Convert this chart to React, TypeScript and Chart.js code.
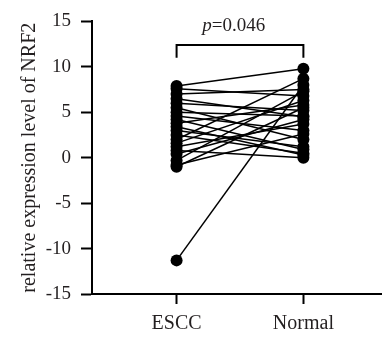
import React, { useEffect, useRef } from "react";
import { Chart, registerables } from "chart.js";

Chart.register(...registerables);

const groupLabels = ["ESCC", "Normal"];
const esccValues = [7.9, 7.6, 7.0, 6.5, 6.0, 5.5, 5.0, 4.6, 4.2, 3.8, 3.4, 3.0, 2.5, 2.0, 1.6, 1.2, 0.8, 0.4, -0.3, -0.8, -1.0, -11.3];
const normalValues = [9.8, 6.8, 7.5, 4.5, 5.2, 2.0, 4.6, 3.0, 0.9, 5.8, 0.3, 1.2, 0.5, 8.7, 6.3, 3.7, 0.0, 4.2, 7.3, 2.6, 5.5, 8.0];
const yTicks = [-15, -10, -5, 0, 5, 10, 15];
const pText = "=0.046";

const SERIF = "'Liberation Serif', 'Times New Roman', serif";
const INK = "#231f20";

export default function App() {
  const ref = useRef<HTMLCanvasElement | null>(null);

  useEffect(() => {
    document.body.style.margin = "0";
    const canvas = ref.current;
    if (!canvas) return;

    const datasets = esccValues.map((v, i) => ({
      data: [
        { x: 0, y: v },
        { x: 1, y: normalValues[i] },
      ],
      showLine: true,
      borderColor: "#000",
      backgroundColor: "#000",
      borderWidth: 1.5,
      pointRadius: 6,
      pointBorderWidth: 0,
      pointBackgroundColor: "#000",
      clip: false as any,
    }));

    const annot = {
      id: "annot",
      afterDraw(chart: any) {
        const ctx = chart.ctx;
        const xs = chart.scales.x;
        const ys = chart.scales.y;
        const x0 = xs.getPixelForValue(0);
        const x1 = xs.getPixelForValue(1);
        const yTop = ys.getPixelForValue(12.4);
        const yLeg = ys.getPixelForValue(11.0);
        ctx.save();
        ctx.strokeStyle = "#000";
        ctx.lineWidth = 2;
        ctx.beginPath();
        ctx.moveTo(x0, yLeg);
        ctx.lineTo(x0, yTop);
        ctx.lineTo(x1, yTop);
        ctx.lineTo(x1, yLeg);
        ctx.stroke();
        ctx.fillStyle = INK;
        ctx.textBaseline = "alphabetic";
        ctx.textAlign = "left";
        const base = ys.getPixelForValue(13.9);
        ctx.font = "italic 19px " + SERIF;
        const pw = ctx.measureText("p").width;
        ctx.font = "19px " + SERIF;
        const rw = ctx.measureText(pText).width;
        const cx = xs.getPixelForValue(0.45);
        const start = cx - (pw + rw) / 2;
        ctx.font = "italic 19px " + SERIF;
        ctx.fillText("p", start, base);
        ctx.font = "19px " + SERIF;
        ctx.fillText(pText, start + pw, base);
        ctx.restore();
      },
    };

    const chart = new Chart(canvas, {
      type: "scatter",
      data: { datasets: datasets as any },
      plugins: [annot],
      options: {
        animation: false,
        responsive: false,
        maintainAspectRatio: false,
        layout: { padding: { top: 18, left: 18, right: 1, bottom: 0 } },
        plugins: { legend: { display: false }, tooltip: { enabled: false } },
        scales: {
          x: {
            type: "linear",
            min: -0.667,
            max: 1.612,
            afterBuildTicks: (axis: any) => {
              axis.ticks = [{ value: 0 }, { value: 1 }];
            },
            afterFit: (axis: any) => {
              axis.height = 48;
            },
            border: { display: true, color: "#000", width: 2 },
            grid: {
              display: true,
              drawOnChartArea: false,
              drawTicks: true,
              tickLength: 10,
              tickWidth: 2,
              tickColor: "#000",
            },
            ticks: {
              autoSkip: false,
              maxRotation: 0,
              padding: 8,
              color: INK,
              font: { family: SERIF, size: 20 },
              callback: (v: any) => groupLabels[Number(v)] ?? "",
            },
          },
          y: {
            min: -15,
            max: 15,
            afterBuildTicks: (axis: any) => {
              axis.ticks = yTicks.map((v) => ({ value: v }));
            },
            afterFit: (axis: any) => {
              axis.width = 74;
            },
            border: { display: true, color: "#000", width: 2 },
            grid: {
              display: true,
              drawOnChartArea: false,
              drawTicks: true,
              tickLength: 11,
              tickWidth: 2,
              tickColor: "#000",
            },
            ticks: {
              padding: 10,
              color: INK,
              font: { family: SERIF, size: 19 },
              callback: (v: any) => String(v),
            },
            title: {
              display: true,
              text: "relative expression level of NRF2",
              color: INK,
              font: { family: SERIF, size: 20 },
              padding: 0,
            },
          },
        },
      },
    });
    return () => chart.destroy();
  }, []);

  return (
    <div style={{ width: 387, height: 342 }}>
      <canvas ref={ref} width={387} height={342} style={{ display: "block", width: 387, height: 342 }} />
    </div>
  );
}
